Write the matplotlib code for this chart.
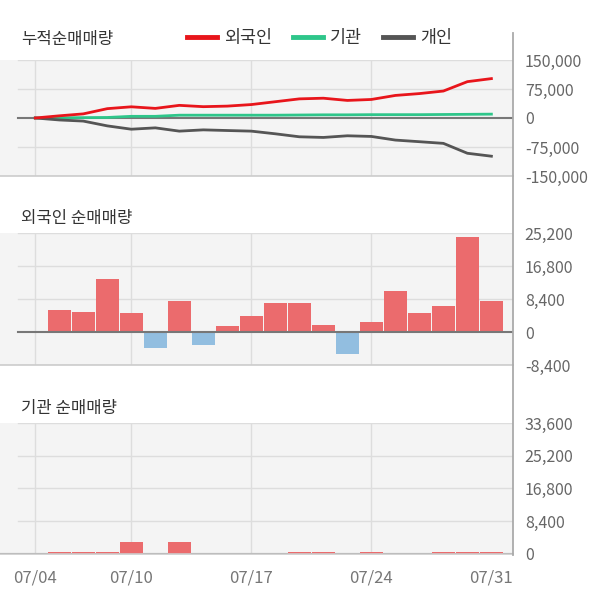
import numpy as np
import matplotlib
matplotlib.use('Agg')
import matplotlib.pyplot as plt
from matplotlib.lines import Line2D

plt.rcParams['font.family'] = ['Noto Sans CJK KR', 'DejaVu Sans']

# trading days, July 2019
dates = ['07/04', '07/05', '07/08', '07/09', '07/10', '07/11', '07/12', '07/15', '07/16', '07/17',
         '07/18', '07/19', '07/22', '07/23', '07/24', '07/25', '07/26', '07/29', '07/30', '07/31']
tick_dates = ['07/04', '07/10', '07/17', '07/24', '07/31']
grid_dates = ['07/04', '07/10', '07/17', '07/24']

# daily net buying
foreign = [0, 5600, 5040, 13500, 4785, -4100, 7860, -3420, 1450, 4020,
           7350, 7350, 1710, -5725, 2480, 10425, 4785, 6580, 24270, 7860]
institution = [0, 450, 450, 450, 2950, 0, 2950, 0, 0, 0,
               0, 450, 450, 0, 450, 0, 0, 450, 450, 450]
# cumulative individual
individual_cum = [0, -5100, -8000, -20400, -29000, -25500, -34000, -30700, -32400, -34000,
                  -40900, -48600, -50300, -46000, -47700, -57100, -61300, -65600, -91200, -98800]

top_ticks = [-150000, -75000, 0, 75000, 150000]
mid_ticks = [-8400, 0, 8400, 16800, 25200]
bot_ticks = [0, 8400, 16800, 25200, 33600]

c_red = '#e8151b'
c_green = '#2ec68a'
c_gray = '#555555'
c_pos = '#eb6b6d'
c_neg = '#92bee0'
bg = '#f4f4f4'
grid_c = '#dddddd'

x = np.arange(len(dates))
foreign_cum = np.cumsum(foreign)
inst_cum = np.cumsum(institution)

fig = plt.figure(figsize=(6, 6.04), dpi=100)
ax1 = fig.add_axes([0, 0.7086, 0.855, 0.1921])
ax2 = fig.add_axes([0, 0.3957, 0.855, 0.2185])
ax3 = fig.add_axes([0, 0.0828, 0.855, 0.2169])


def style(ax, ticks):
    ax.set_facecolor(bg)
    ax.set_xlim(-1.47, 19.9)
    ax.set_ylim(ticks[0], ticks[-1])
    for s in ['top', 'left', 'right']:
        ax.spines[s].set_visible(False)
    ax.spines['bottom'].set_color('#cccccc')
    ax.spines['bottom'].set_linewidth(1.2)
    for t in ticks:
        if t != 0:
            ax.axhline(t, xmin=0.035, color=grid_c, lw=1, zorder=0)
    for d in grid_dates:
        ax.axvline(dates.index(d), color=grid_c, lw=1, zorder=0)
    ax.yaxis.tick_right()
    ax.set_yticks(ticks)
    ax.set_yticklabels([f'{t:,}' for t in ticks])
    ax.tick_params(axis='y', length=0, pad=8.5, labelsize=11.5, labelcolor='#666666')
    ax.tick_params(axis='x', length=0)
    ax.set_xticks([])


style(ax1, top_ticks)
style(ax2, mid_ticks)
style(ax3, bot_ticks)

# cumulative lines
ax1.axhline(0, xmin=0.035, color='#777777', lw=1.5, zorder=1)
ax1.plot(x, inst_cum, color=c_green, lw=2, zorder=3)
ax1.plot(x, individual_cum, color=c_gray, lw=2, zorder=3)
ax1.plot(x, foreign_cum, color=c_red, lw=2, zorder=4)

# foreign bars
fcol = [c_pos if v >= 0 else c_neg for v in foreign]
ax2.bar(x, foreign, width=0.95, color=fcol, zorder=2)
ax2.axhline(0, xmin=0.035, color='#777777', lw=1.5, zorder=3)

# institution bars
icol = [c_pos if v >= 0 else c_neg for v in institution]
ax3.axhline(0, xmin=0.0, color='#777777', lw=1.5, zorder=1)
ax3.bar(x, institution, width=0.95, color=icol, zorder=2)
ax3.set_xticks([dates.index(d) for d in tick_dates])
ax3.set_xticklabels(tick_dates)
ax3.tick_params(axis='x', length=0, pad=11, labelsize=12, labelcolor='#777777')

# titles
fig.text(0.035, 0.934, '누적순매매량', fontsize=12, color='#333333', va='center')
fig.text(0.035, 0.639, '외국인 순매매량', fontsize=12, color='#333333', va='center')
fig.text(0.035, 0.3245, '기관 순매매량', fontsize=12, color='#333333', va='center')

# legend
handles = [Line2D([], [], color=c_red, lw=3.5),
           Line2D([], [], color=c_green, lw=3.5),
           Line2D([], [], color=c_gray, lw=3.5)]
fig.legend(handles, ['외국인', '기관', '개인'], loc='center', bbox_to_anchor=(0.5325, 0.937),
           ncol=3, frameon=False, fontsize=12.5, handlelength=1.75, handletextpad=0.4,
           columnspacing=1.2, labelcolor='#333333')

# right axis line spanning all panels
fig.add_artist(Line2D([0.855, 0.855], [0.081, 0.945], transform=fig.transFigure,
                      color='#aaaaaa', lw=1.3))

fig.savefig('out.png', dpi=100)
